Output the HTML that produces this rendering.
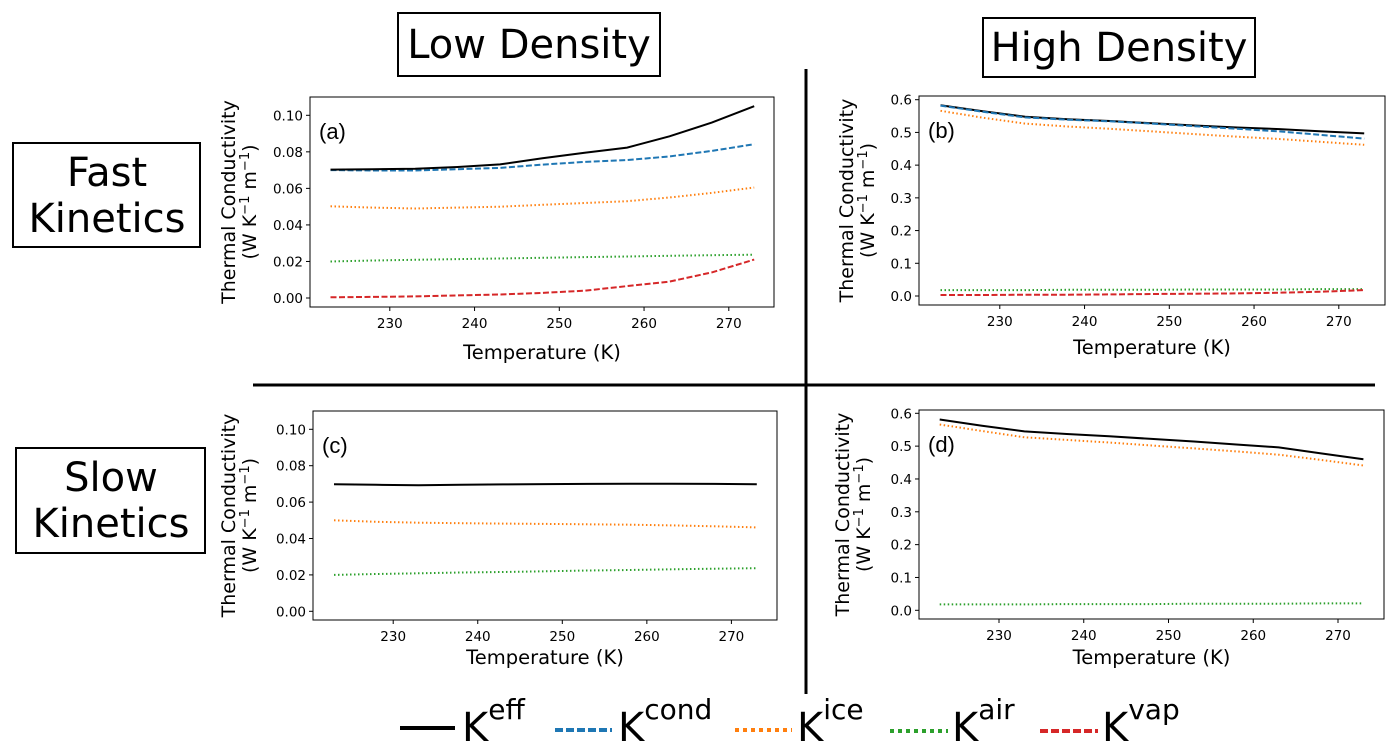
<!DOCTYPE html>
<html><head><meta charset="utf-8"><style>
body{margin:0;background:#fff;}
svg{display:block;font-family:"DejaVu Sans","Liberation Sans",sans-serif;}
</style></head><body>
<svg id="fig" width="1398" height="755" viewBox="0 0 1398 755">
<g>
<rect x="398" y="13" width="262" height="63" fill="none" stroke="#000" stroke-width="2"/>
<text x="529" y="58" font-size="40" text-anchor="middle">Low Density</text>
<rect x="983" y="18" width="272" height="59" fill="none" stroke="#000" stroke-width="2"/>
<text x="1119" y="61" font-size="40" text-anchor="middle">High Density</text>
<rect x="13" y="143" width="187" height="104" fill="none" stroke="#000" stroke-width="2"/>
<text x="107" y="186" font-size="40" text-anchor="middle"><tspan x="107">Fast</tspan><tspan x="107" dy="46">Kinetics</tspan></text>
<rect x="16" y="448" width="189" height="105" fill="none" stroke="#000" stroke-width="2"/>
<text x="111" y="491" font-size="40" text-anchor="middle"><tspan x="111">Slow</tspan><tspan x="111" dy="46">Kinetics</tspan></text>
</g>
<line x1="806" y1="69" x2="806" y2="694" stroke="#000" stroke-width="3"/>
<line x1="253" y1="385" x2="1375" y2="385" stroke="#000" stroke-width="3"/>
<g id="panels"></g>
<g>
<line x1="400" y1="728" x2="455" y2="728" stroke="#000" stroke-width="4"/>
<text x="462" y="741" font-size="40">K<tspan font-size="28" dy="-22">eff</tspan></text>
<line x1="555" y1="730" x2="612" y2="730" stroke="#1f77b4" stroke-width="4" stroke-dasharray="8 3"/>
<text x="618" y="741" font-size="40">K<tspan font-size="28" dy="-22">cond</tspan></text>
<line x1="735" y1="730" x2="792" y2="730" stroke="#ff7f0e" stroke-width="4" stroke-dasharray="4 4"/>
<text x="797" y="741" font-size="40">K<tspan font-size="28" dy="-22">ice</tspan></text>
<line x1="890" y1="731" x2="948" y2="731" stroke="#2ca02c" stroke-width="4" stroke-dasharray="4 4"/>
<text x="952" y="741" font-size="40">K<tspan font-size="28" dy="-22">air</tspan></text>
<line x1="1040" y1="731" x2="1098" y2="731" stroke="#d62728" stroke-width="4" stroke-dasharray="8 3"/>
<text x="1102" y="741" font-size="40">K<tspan font-size="28" dy="-22">vap</tspan></text>
</g>
</svg>
<script>
const temps = [223,228,233,238,243,248,253,258,263,268,273];
const aEff = [0.0703,0.0705,0.0707,0.0717,0.0731,0.0765,0.0795,0.0823,0.0885,0.0960,0.105];
const aCond = [0.0700,0.0698,0.0698,0.0705,0.0712,0.0730,0.0745,0.0755,0.0775,0.0805,0.0842];
const aIce = [0.0502,0.0495,0.0490,0.0495,0.0500,0.0510,0.0520,0.0530,0.0550,0.0575,0.0605];
const aAir = [0.0200,0.0205,0.0209,0.0213,0.0216,0.0220,0.0224,0.0227,0.0231,0.0234,0.0237];
const aVap = [0.0004,0.0006,0.0009,0.0014,0.0019,0.0028,0.0040,0.0065,0.0090,0.0140,0.0210];
const bEff = [0.583,0.565,0.548,0.540,0.535,0.528,0.521,0.515,0.510,0.503,0.497];
const bCond = [0.582,0.563,0.546,0.539,0.534,0.527,0.519,0.511,0.503,0.492,0.481];
const bIce = [0.566,0.545,0.527,0.518,0.511,0.503,0.495,0.487,0.480,0.471,0.462];
const bAir = [0.018,0.018,0.018,0.019,0.019,0.019,0.020,0.020,0.020,0.021,0.021];
const bVap = [0.003,0.003,0.004,0.004,0.005,0.006,0.007,0.008,0.010,0.013,0.018];
const cEff = [0.0698,0.0695,0.0693,0.0695,0.0697,0.0699,0.0700,0.0701,0.0701,0.0700,0.0698];
const cIce = [0.0500,0.0492,0.0487,0.0484,0.0482,0.0480,0.0478,0.0476,0.0472,0.0467,0.0461];
const cAir = [0.0200,0.0205,0.0209,0.0213,0.0216,0.0220,0.0224,0.0227,0.0231,0.0234,0.0237];
const dEff = [0.581,0.562,0.545,0.537,0.530,0.522,0.514,0.505,0.496,0.478,0.460];
const dIce = [0.566,0.546,0.527,0.519,0.511,0.502,0.493,0.484,0.474,0.458,0.441];
const dAir = [0.018,0.018,0.018,0.019,0.019,0.019,0.020,0.020,0.020,0.021,0.021];
const xTicks = [230,240,250,260,270];
const yTicksLow = [0,0.02,0.04,0.06,0.08,0.10];
const yTicksHigh = [0,0.1,0.2,0.3,0.4,0.5,0.6];

const NS='http://www.w3.org/2000/svg';
const root=document.getElementById('panels');
function mk(tag,attrs,parent){const e=document.createElementNS(NS,tag);for(const k in attrs)e.setAttribute(k,attrs[k]);(parent||root).appendChild(e);return e;}
const styles={eff:{c:'#000',d:''},cond:{c:'#1f77b4',d:'6 2.5'},ice:{c:'#ff7f0e',d:'1.5 2.5'},air:{c:'#2ca02c',d:'1.5 2.5'},vap:{c:'#d62728',d:'6 2.5'}};
const panels=[
 {id:'a',L:310,R:774,T:97,B:307,x0:389.8,x1:728.8,y0v:0,y0:298,y1v:0.10,y1:115.3,ticks:yTicksLow,dec:2,series:{cond:aCond,eff:aEff,ice:aIce,air:aAir,vap:aVap},ylx:235,tly:323,xly:359},
 {id:'b',L:919,R:1385,T:96,B:305,x0:999.8,x1:1338.8,y0v:0,y0:296,y1v:0.6,y1:99.7,ticks:yTicksHigh,dec:1,series:{eff:bEff,cond:bCond,ice:bIce,air:bAir,vap:bVap},ylx:853,tly:321,xly:354},
 {id:'c',L:313,R:777,T:411,B:620,x0:393.2,x1:731.4,y0v:0,y0:611.3,y1v:0.10,y1:429.3,ticks:yTicksLow,dec:2,series:{eff:cEff,ice:cIce,air:cAir},ylx:235,tly:636,xly:664},
 {id:'d',L:919,R:1384,T:410,B:619,x0:999,x1:1338,y0v:0,y0:610.3,y1v:0.6,y1:413.3,ticks:yTicksHigh,dec:1,series:{eff:dEff,ice:dIce,air:dAir},ylx:849,tly:635,xly:664}
];
panels.forEach(p=>{
 const g=mk('g',{});
 
 
 const xs=v=>p.x0+(v-230)*(p.x1-p.x0)/40;
 const ys=v=>p.y0+(v-p.y0v)*(p.y1-p.y0)/(p.y1v-p.y0v);
 const fr=mk('rect',{x:p.L,y:p.T,width:p.R-p.L,height:p.B-p.T,fill:'none',stroke:'#000','stroke-width':1},g);
 
 
 xTicks.forEach(t=>{
  const x=xs(t);
  mk('line',{x1:x,x2:x,y1:p.B,y2:p.B+4,stroke:'#000'},g);
  const tx=mk('text',{x:x,y:p.tly+5,'font-size':13.5,'text-anchor':'middle'},g);
  tx.textContent=t;
  
  
 });
 p.ticks.forEach(t=>{
  const y=ys(t);
  mk('line',{x1:p.L-4,x2:p.L,y1:y,y2:y,stroke:'#000'},g);
  const tx=mk('text',{x:p.L-7,y:y+5,'font-size':13.5,'text-anchor':'end'},g);
  tx.textContent=t.toFixed(p.dec);
  
  
 });
 const xl=mk('text',{x:(p.L+p.R)/2,y:p.xly,'font-size':19.5,'text-anchor':'middle'},g);
 xl.textContent='Temperature (K)';
 
 
 const cy=(p.T+p.B)/2;
 const yl=mk('text',{transform:'translate('+p.ylx+','+cy+') rotate(-90)','font-size':19,'text-anchor':'middle'},g);
 
 
 yl.innerHTML='<tspan x="0" y="0">Thermal Conductivity</tspan><tspan x="0" y="21">(W K<tspan font-size="13" dy="-7">−1</tspan><tspan dy="7"> m</tspan><tspan font-size="13" dy="-7">−1</tspan><tspan dy="7">)</tspan></tspan>';
 const pl=mk('text',{x:p.L+9,y:p.T+42,'font-size':22,'font-family':'Liberation Sans, sans-serif'},g);
 pl.textContent='('+p.id+')';
 
 
 Object.keys(p.series).forEach(k=>{
  const vals=p.series[k];
  const pts=temps.map((t,i)=>xs(t).toFixed(1)+','+ys(vals[i]).toFixed(1)).join(' ');
  const s=styles[k];
  const ln=mk('polyline',{points:pts,fill:'none',stroke:s.c,'stroke-width':2,'stroke-dasharray':s.d},g);
  
  
 });
});
</script>
</body></html>
